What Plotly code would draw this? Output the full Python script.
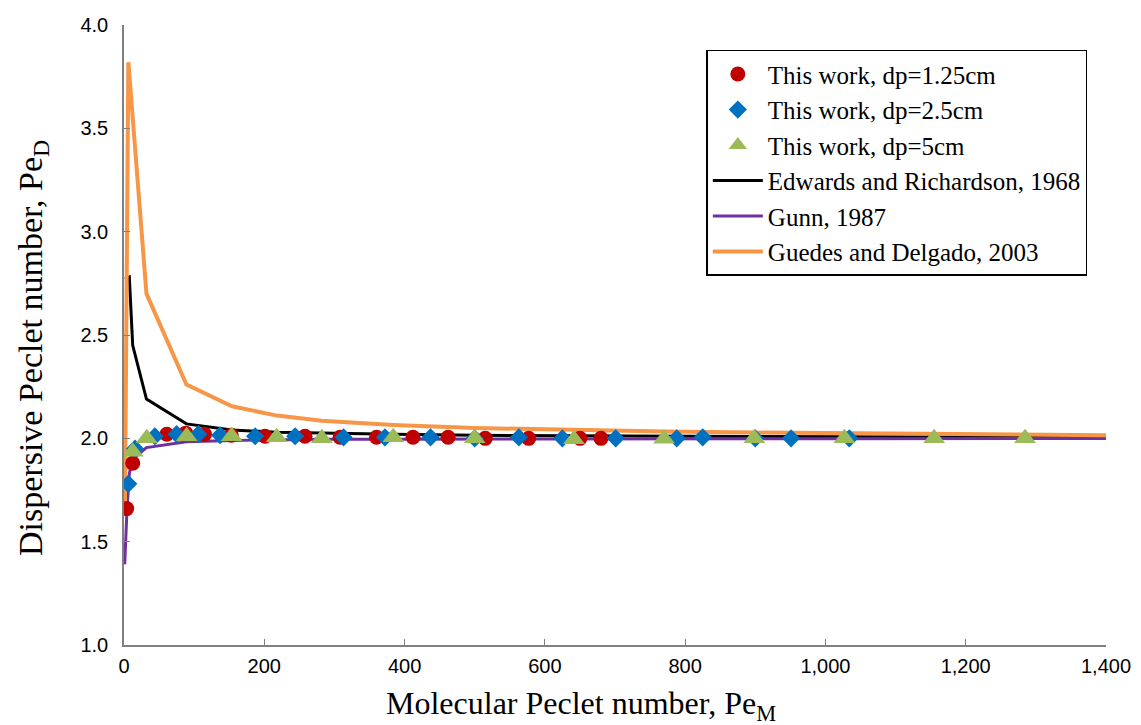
import plotly.graph_objects as go

# Measured points, this work
red_x = [3.8, 12.4, 61, 88, 115, 153, 201, 258, 308, 360, 412, 462, 515, 577, 650, 680]
red_y = [1.66, 1.88, 2.02, 2.025, 2.02, 2.015, 2.01, 2.01, 2.005, 2.005, 2.005, 2.005, 2.0, 2.0, 2.0, 2.0]

blue_x = [6.1, 15.7, 44, 75, 106, 137, 187, 244, 313, 372, 437, 500, 563, 625, 701, 788, 825, 900, 951, 1034]
blue_y = [1.78, 1.95, 2.01, 2.02, 2.02, 2.015, 2.01, 2.01, 2.005, 2.005, 2.005, 2.0, 2.005, 2.0, 2.0, 2.0,
          2.005, 2.0, 2.0, 2.0]

green_x = [12.4, 32.4, 89.4, 153.5, 217.7, 282, 384, 500, 641.5, 770, 898.6, 1027, 1155, 1284.6]
green_y = [1.935, 2.0, 2.01, 2.01, 2.005, 2.0, 2.005, 2.0, 1.995, 1.998, 2.0, 2.0, 2.0, 2.0]

# Correlations
edwards_x = [1.4, 7.6, 12.4, 32, 89, 154, 218, 282, 384, 500, 643, 770, 898, 1027, 1155, 1284, 1400]
edwards_y = [2.77, 2.78, 2.45, 2.19, 2.07, 2.04, 2.03, 2.025, 2.02, 2.015, 2.012, 2.01, 2.009, 2.008,
             2.007, 2.006, 2.005]

gunn_x = [1.0, 4.3, 7.6, 12.4, 32, 89, 154, 218, 282, 384, 500, 643, 770, 898, 1027, 1155, 1284, 1400]
gunn_y = [1.39, 1.66, 1.83, 1.90, 1.955, 1.983, 1.99, 1.993, 1.995, 1.996, 1.997, 1.997, 1.998, 1.998,
          1.998, 1.998, 1.999, 1.999]

guedes_x = [1.4, 6.2, 32, 89, 154, 218, 282, 384, 500, 643, 770, 898, 1027, 1155, 1284, 1400]
guedes_y = [1.69, 3.82, 2.70, 2.26, 2.155, 2.11, 2.085, 2.065, 2.05, 2.04, 2.033, 2.028, 2.024, 2.021,
            2.018, 2.015]

x_ticks = [0, 200, 400, 600, 800, 1000, 1200, 1400]
y_ticks = [1.0, 1.5, 2.0, 2.5, 3.0, 3.5, 4.0]

fig = go.Figure()

# lines first so the markers sit on top
fig.add_trace(go.Scatter(x=edwards_x, y=edwards_y, mode="lines", name="Edwards and Richardson, 1968",
                         line=dict(color="#000000", width=3), legendrank=4))
fig.add_trace(go.Scatter(x=gunn_x, y=gunn_y, mode="lines", name="Gunn, 1987",
                         line=dict(color="#7030A0", width=3), legendrank=5))
fig.add_trace(go.Scatter(x=guedes_x, y=guedes_y, mode="lines", name="Guedes and Delgado, 2003",
                         line=dict(color="#F79646", width=4), legendrank=6))

fig.add_trace(go.Scatter(x=red_x, y=red_y, mode="markers", name="This work, dp=1.25cm",
                         marker=dict(symbol="circle", size=15, color="#C00000"), legendrank=1))
fig.add_trace(go.Scatter(x=blue_x, y=blue_y, mode="markers", name="This work, dp=2.5cm",
                         marker=dict(symbol="diamond", size=14, color="#0070C0"), legendrank=2))
fig.add_trace(go.Scatter(x=green_x, y=green_y, mode="markers", name="This work, dp=5cm",
                         marker=dict(symbol="triangle-up", size=19, color="#9BBB59"), legendrank=3))

tick_font = dict(family="Liberation Sans, Arial, sans-serif", size=20, color="#000000")
serif = "Liberation Serif, Times New Roman, serif"

fig.update_xaxes(range=[0, 1400], tickvals=x_ticks, tickformat=",d", ticks="inside", ticklen=6,
                 tickcolor="#808080", showline=True, linecolor="#808080", linewidth=1.5,
                 showgrid=False, zeroline=False, tickfont=tick_font, ticklabelstandoff=2,
                 automargin=False)
fig.update_yaxes(range=[1, 4], tickvals=y_ticks, tickformat=".1f", ticks="inside", ticklen=6,
                 tickcolor="#808080", showline=True, linecolor="#808080", linewidth=1.5,
                 showgrid=False, zeroline=False, tickfont=tick_font, ticklabelstandoff=10,
                 automargin=False)

# axis titles as annotations, placed like the original
fig.add_annotation(text="Molecular Peclet number, Pe<sub>M</sub>", xref="paper", yref="paper",
                   x=0.5, y=0, xanchor="center", yanchor="middle", xshift=-34, yshift=-60,
                   showarrow=False, font=dict(family=serif, size=32, color="#000000"))
fig.add_annotation(text="Dispersive Peclet number, Pe<sub>D</sub>", xref="paper", yref="paper",
                   x=0, y=0.5, xanchor="center", yanchor="middle", xshift=-91, yshift=-13,
                   textangle=-90, showarrow=False, font=dict(family=serif, size=34, color="#000000"))

# page body adds an 8px margin, so the figure is 8px smaller and the margins shifted
fig.update_layout(
    width=1133, height=717,
    margin=dict(l=116, r=35, t=17, b=80),
    plot_bgcolor="white", paper_bgcolor="white",
    legend=dict(x=0.787, y=0.96, xanchor="center", yanchor="top",
                bgcolor="white", bordercolor="#000000", borderwidth=1.5,
                font=dict(family=serif, size=25, color="#000000"),
                itemwidth=50, tracegroupgap=0),
)

fig.write_html("out.html")
